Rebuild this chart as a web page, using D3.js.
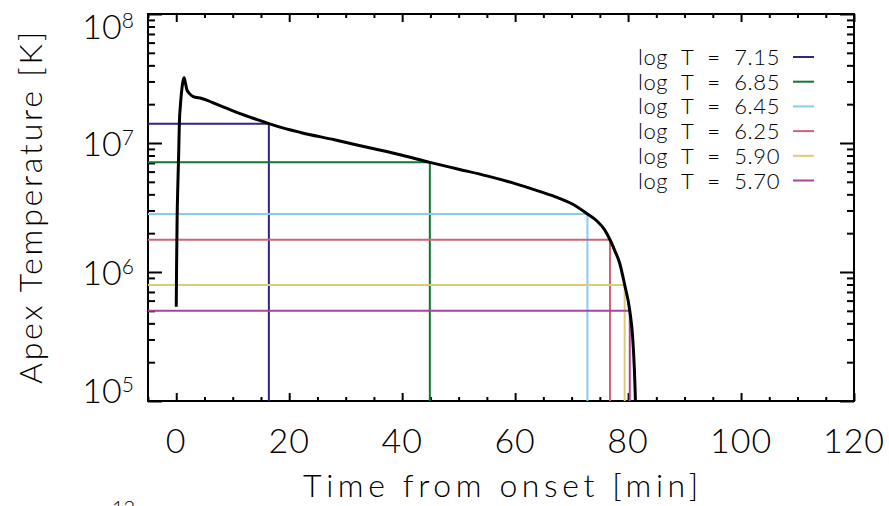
<!DOCTYPE html>
<html>
<head>
<meta charset="utf-8">
<script src="https://cdn.jsdelivr.net/npm/d3@7/dist/d3.min.js"></script>
<style>
  html, body { margin: 0; padding: 0; background: #fff; }
  svg { display: block; font-family: Lato, "Open Sans", sans-serif; font-weight: 300; }
</style>
</head>
<body>
<svg id="chart" width="889" height="506"></svg>
<script>
// Apex temperature evolution of the loop (minutes from onset, log10 K)
const timeMin = [0, 0.05, 0.15, 0.3, 0.45, 0.55, 0.75, 1.0, 1.2, 1.4, 1.65, 1.9, 2.3, 3.0, 4.5,
  5.5, 7.0, 9.0, 11.3, 14.0, 16.4, 19, 22, 28, 34, 40, 44.9, 50, 55, 60, 64.3, 67, 70.2,
  72.8, 74.5, 75.8, 76.8, 77.7, 78.5, 79.4, 80.3, 80.8, 81.1, 81.3, 81.45];
const logTemp = [5.73, 6.0, 6.4, 6.7, 6.95, 7.15, 7.3, 7.42, 7.48, 7.505, 7.46, 7.41, 7.385, 7.36, 7.345,
  7.33, 7.303, 7.268, 7.228, 7.186, 7.15, 7.115, 7.082, 7.025, 6.965, 6.905, 6.85, 6.797, 6.745, 6.685, 6.625, 6.585, 6.525,
  6.45, 6.395, 6.33, 6.25, 6.16, 6.07, 5.90, 5.70, 5.50, 5.26, 5.0, 4.7];

// Reference temperatures and the time at which the apex cools through each
const refLogT = [7.15, 6.85, 6.45, 6.25, 5.90, 5.70];
const refLabels = ["7.15", "6.85", "6.45", "6.25", "5.90", "5.70"];
const refTime = [16.4, 44.9, 72.8, 76.8, 79.4, 80.3];
const refColors = ["#332288", "#117733", "#88CCEE", "#CC6677", "#DDCC77", "#AA4499"];

// Axes
const xTicks = [0, 20, 40, 60, 80, 100, 120];
const yTicks = [1e5, 1e6, 1e7, 1e8];
const yExponents = ["5", "6", "7", "8"];

const svg = d3.select("#chart");
const W = 889, H = 506;
const m = { left: 148, right: 854, top: 14, bottom: 401 };

const x = d3.scaleLinear().domain([-5, 120]).range([m.left, m.right]);
const y = d3.scaleLog().domain([1e5, 1e8]).range([m.bottom, m.top]);

svg.append("rect").attr("width", W).attr("height", H).attr("fill", "#fff");

// clip region for data marks
svg.append("defs").append("clipPath").attr("id", "plot")
  .append("rect").attr("x", m.left).attr("y", m.top)
  .attr("width", m.right - m.left).attr("height", m.bottom - m.top);

const minorX = d3.range(-5, 121, 5).filter(v => v % 20 !== 0);
const minorY = [];
[1e5, 1e6, 1e7].forEach(d => { for (let k = 2; k <= 9; k++) minorY.push(d * k); });

function styleAxis(g) {
  g.select(".domain").remove();
  g.selectAll(".tick line").attr("stroke", "#000").attr("stroke-width", 2);
  g.selectAll(".tick text").remove();
}

// Bottom and top ticks (pointing inward)
svg.append("g").attr("transform", `translate(0,${m.bottom})`)
  .call(d3.axisBottom(x).tickValues(xTicks).tickSize(-8).tickFormat("")).call(styleAxis);
svg.append("g").attr("transform", `translate(0,${m.bottom})`)
  .call(d3.axisBottom(x).tickValues(minorX).tickSize(-4).tickFormat("")).call(styleAxis);
svg.append("g").attr("transform", `translate(0,${m.top})`)
  .call(d3.axisTop(x).tickValues(xTicks).tickSize(-8).tickFormat("")).call(styleAxis);
svg.append("g").attr("transform", `translate(0,${m.top})`)
  .call(d3.axisTop(x).tickValues(minorX).tickSize(-4).tickFormat("")).call(styleAxis);

// Left and right ticks
svg.append("g").attr("transform", `translate(${m.left},0)`)
  .call(d3.axisLeft(y).tickValues(yTicks).tickSize(-14).tickFormat("")).call(styleAxis);
svg.append("g").attr("transform", `translate(${m.left},0)`)
  .call(d3.axisLeft(y).tickValues(minorY).tickSize(-7).tickFormat("")).call(styleAxis);
svg.append("g").attr("transform", `translate(${m.right},0)`)
  .call(d3.axisRight(y).tickValues(yTicks).tickSize(-14).tickFormat("")).call(styleAxis);
svg.append("g").attr("transform", `translate(${m.right},0)`)
  .call(d3.axisRight(y).tickValues(minorY).tickSize(-7).tickFormat("")).call(styleAxis);

// Frame
svg.append("rect")
  .attr("x", m.left).attr("y", m.top)
  .attr("width", m.right - m.left).attr("height", m.bottom - m.top)
  .attr("fill", "none").attr("stroke", "#000").attr("stroke-width", 2);

// X tick labels
svg.append("g").selectAll("text").data(xTicks).join("text")
  .attr("x", d => x(d)).attr("y", 453)
  .attr("text-anchor", "middle").attr("font-size", 34).attr("fill", "#000")
  .attr("letter-spacing", 1)
  .text(d => d);

// Y tick labels as powers of ten; end labels kept inside the frame height
const yLab = svg.append("g").selectAll("text").data(yTicks).join("text")
  .attr("x", 134)
  .attr("y", (d, i) => {
    let yy = y(d) + 13;
    if (i === yTicks.length - 1) yy += 12;
    if (i === 0) yy -= 11;
    return yy;
  })
  .attr("text-anchor", "end").attr("font-size", 34).attr("fill", "#000");
yLab.append("tspan").text("10");
yLab.append("tspan").attr("dy", -11).attr("font-size", 21).text((d, i) => yExponents[i]);

// Axis titles
svg.append("text")
  .attr("x", (m.left + m.right) / 2 + 2).attr("y", 497)
  .attr("text-anchor", "middle").attr("font-size", 32).attr("fill", "#000")
  .attr("letter-spacing", 4.6)
  .text("Time from onset [min]");
svg.append("text")
  .attr("transform", `translate(42,${(m.top + m.bottom) / 2 - 1}) rotate(-90)`)
  .attr("text-anchor", "middle").attr("font-size", 32).attr("fill", "#000")
  .attr("letter-spacing", 2.8)
  .text("Apex Temperature [K]");

// Partial label of the panel below
svg.append("text").attr("x", 112).attr("y", 515)
  .attr("font-size", 20).attr("fill", "#000").text("12");

const plot = svg.append("g").attr("clip-path", "url(#plot)");

// Reference temperature guides: horizontal to the crossing time, then down
refLogT.forEach((lt, i) => {
  const T = Math.pow(10, lt);
  const path = d3.path();
  path.moveTo(x(-5), y(T));
  path.lineTo(x(refTime[i]), y(T));
  path.lineTo(x(refTime[i]), y(1e5));
  plot.append("path").attr("d", path.toString())
    .attr("fill", "none").attr("stroke", refColors[i]).attr("stroke-width", 2);
});

// Apex temperature curve
const line = d3.line()
  .x((d, i) => x(timeMin[i]))
  .y((d, i) => y(Math.pow(10, logTemp[i])))
  .curve(d3.curveMonotoneX);
plot.append("path").attr("d", line(timeMin))
  .attr("fill", "none").attr("stroke", "#000").attr("stroke-width", 3)
  .attr("stroke-linejoin", "round");

// Legend
const leg = svg.append("g");
refLabels.forEach((lab, i) => {
  const ly = 57 + i * 24.7;
  leg.append("text").attr("x", 638).attr("y", ly + 8)
    .attr("font-size", 22).attr("fill", "#000")
    .attr("letter-spacing", 0.6).attr("word-spacing", 7)
    .text(`log T = ${lab}`);
  leg.append("line").attr("x1", 793).attr("x2", 814).attr("y1", ly).attr("y2", ly)
    .attr("stroke", refColors[i]).attr("stroke-width", 2);
});
</script>
</body>
</html>
